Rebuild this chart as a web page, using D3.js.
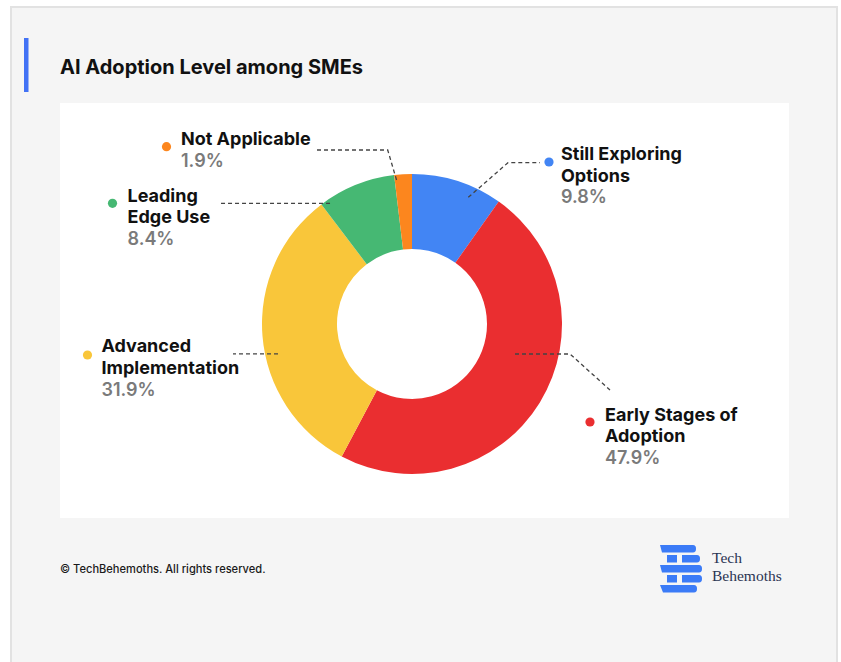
<!DOCTYPE html>
<html>
<head>
<meta charset="utf-8">
<script src="https://cdn.jsdelivr.net/npm/d3@7"></script>
<style>
  html, body { margin: 0; padding: 0; background: #ffffff; }
  svg { display: block; }
  text { font-family: Inter, Roboto, "Liberation Sans", Arial, sans-serif; }
  text.serif { font-family: "Liberation Serif", "DejaVu Serif", serif; }
</style>
</head>
<body>
<svg id="chart" width="841" height="662"></svg>
<script>
// Survey answers: AI adoption level among SMEs (share of respondents, %)
const categories = [
  "Still Exploring Options",
  "Early Stages of Adoption",
  "Advanced Implementation",
  "Leading Edge Use",
  "Not Applicable"
];
const shares = [9.8, 47.9, 31.9, 8.4, 1.9];
const labelLines = [
  ["Still Exploring", "Options"],
  ["Early Stages of", "Adoption"],
  ["Advanced", "Implementation"],
  ["Leading", "Edge Use"],
  ["Not Applicable"]
];
const sliceColors = ["#4285F4", "#EA2E30", "#F9C63A", "#46B873", "#FC861E"];

// Label placement: text origin, bullet position and the dashed leader path.
// The leader starts inside the slice (angle offset in degrees from the slice
// mid-angle, at radius r); following points with y = null keep the previous y.
const labelLayout = [
  { tx: 561, ty: 160, dot: [549, 162], da: 6.3,   r: 138.6, pts: [[508, 162.7], [540, null]] },
  { tx: 605, ty: 420.7, dot: [590, 422], da: -15.4, r: 107.3, pts: [[570, null], [610, 390]] },
  { tx: 101.5, ty: 352.3, dot: [87.5, 355], da: -8.0, r: 137.3, pts: [[233, null]] },
  { tx: 127.5, ty: 201.7, dot: [112.5, 203.3], da: -12.2, r: 145.9, pts: [[220, null]] },
  { tx: 181, ty: 145, dot: [166.5, 146.7], da: -2.7, r: 144.8, pts: [[387.7, 150], [316.7, null]] }
];

const svg = d3.select("#chart");

// Card background
svg.append("rect")
  .attr("x", 11).attr("y", 7).attr("width", 826).attr("height", 670)
  .attr("fill", "#f5f5f5").attr("stroke", "#e2e2e2").attr("stroke-width", 2);

// Title with accent bar
svg.append("rect")
  .attr("x", 24).attr("y", 38).attr("width", 4.5).attr("height", 54)
  .attr("fill", "#4272F5");
svg.append("text")
  .attr("x", 60).attr("y", 74)
  .attr("font-size", 20).attr("font-weight", 700).attr("fill", "#111")
  .text("AI Adoption Level among SMEs");

// White plot panel
svg.append("rect")
  .attr("x", 60).attr("y", 103).attr("width", 729).attr("height", 415)
  .attr("fill", "#ffffff");

// Donut
const cx = 412, cy = 324, outerR = 150, innerR = 75;
const pie = d3.pie().sort(null).value(d => d);
const arcs = pie(shares);
const arc = d3.arc().innerRadius(innerR).outerRadius(outerR);

const g = svg.append("g").attr("transform", `translate(${cx},${cy})`);
g.selectAll("path.slice")
  .data(arcs)
  .join("path")
  .attr("class", "slice")
  .attr("d", arc)
  .attr("fill", (d, i) => sliceColors[i]);

// Leader lines
const toRad = Math.PI / 180;
arcs.forEach((a, i) => {
  const L = labelLayout[i];
  const ang = (a.startAngle + a.endAngle) / 2 + L.da * toRad;
  const start = [cx + L.r * Math.sin(ang), cy - L.r * Math.cos(ang)];
  const pts = [start];
  L.pts.forEach(p => {
    const prev = pts[pts.length - 1];
    pts.push([p[0], p[1] === null ? prev[1] : p[1]]);
  });
  svg.append("path")
    .attr("d", d3.line()(pts))
    .attr("fill", "none")
    .attr("stroke", "#444")
    .attr("stroke-width", 1.3)
    .attr("stroke-dasharray", "4,3");
});

// Labels
labelLayout.forEach((L, i) => {
  svg.append("circle")
    .attr("cx", L.dot[0]).attr("cy", L.dot[1]).attr("r", 4.6)
    .attr("fill", sliceColors[i]);
  const lines = labelLines[i];
  lines.forEach((t, j) => {
    svg.append("text")
      .attr("x", L.tx).attr("y", L.ty + j * 21.6)
      .attr("font-size", 18).attr("font-weight", 700).attr("fill", "#111")
      .text(t);
  });
  svg.append("text")
    .attr("x", L.tx).attr("y", L.ty + lines.length * 21.6)
    .attr("font-size", 18).attr("font-weight", 600).attr("fill", "#7a7a7a")
    .text(d3.format(".1f")(shares[i]) + "%");
});

// Footer
svg.append("text")
  .attr("x", 60).attr("y", 573)
  .attr("font-size", 11.1).attr("font-weight", 500).attr("fill", "#1a1a1a")
  .text("© TechBehemoths. All rights reserved.");

// Brand mark: striped "B"
const logo = svg.append("g").attr("fill", "#3B7BF7");
const rowH = 7.5;
const rowsY = [545, 555, 565, 575, 585];
// full-width bars (top, middle, bottom) with slanted left end and rounded right end
[[0, 696], [2, 702], [4, 697]].forEach(([r, xr]) => {
  const y0 = rowsY[r], y1 = y0 + rowH;
  logo.append("path")
    .attr("d", `M${660},${y0} L${xr - 3},${y0} Q${xr},${y0} ${xr},${(y0 + y1) / 2} Q${xr},${y1} ${xr - 3},${y1} L${r === 4 ? 663 : 662},${y1} Z`);
});
// split rows: stem block and bowl block
[1, 3].forEach(r => {
  const y0 = rowsY[r];
  const xr = r === 1 ? 700 : 702;
  logo.append("rect").attr("x", 667).attr("y", y0).attr("width", 10).attr("height", rowH);
  logo.append("path")
    .attr("d", `M682,${y0} L${xr - 3},${y0} Q${xr},${y0} ${xr},${y0 + rowH / 2} Q${xr},${y0 + rowH} ${xr - 3},${y0 + rowH} L682,${y0 + rowH} Z`);
});
svg.append("text").attr("class", "serif")
  .attr("x", 712).attr("y", 563)
  .attr("font-size", 15.5).attr("fill", "#2b3452")
  .text("Tech");
svg.append("text").attr("class", "serif")
  .attr("x", 712).attr("y", 581)
  .attr("font-size", 15.5).attr("fill", "#2b3452")
  .text("Behemoths");
</script>
</body>
</html>
